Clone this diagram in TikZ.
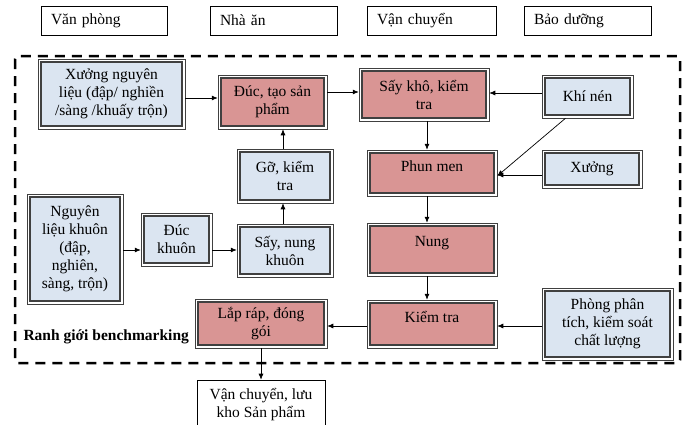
\documentclass[tikz,border=0pt]{standalone}
\usepackage{fontspec}
\setmainfont{Liberation Serif}
\usetikzlibrary{arrows.meta}
\definecolor{pinkc}{HTML}{D99594}
\definecolor{bluec}{HTML}{DBE5F1}
\begin{document}
\begin{tikzpicture}[x=1pt,y=-1pt,
  font=\fontsize{15.5}{18}\selectfont,
  dbox/.style={draw=black!75, line width=0.5pt, fill=white, inner sep=0pt, align=center,
    path picture={\draw[line width=1.3pt, fill=#1]
      ([shift={(3pt,3pt)}]path picture bounding box.south west) rectangle
      ([shift={(-3pt,-3pt)}]path picture bounding box.north east);}},
  pinkbox/.style={dbox=pinkc},
  bluebox/.style={dbox=bluec},
  topbox/.style={draw, line width=0.6pt, inner xsep=10pt, text width=#1, align=left, minimum height=29pt},
  plainbox/.style={draw, line width=0.6pt, fill=white, inner sep=0pt, align=center},
  arr/.style={-{Latex[length=6pt,width=5pt]}, line width=0.7pt},
  frame/.style={line width=2.5pt, dash pattern=on 10pt off 7pt},
]
\useasboundingbox (0,0) rectangle (688,424);
\clip (0,0) rectangle (688,424);

% top boxes
\node[topbox=106pt] (vp) at (104,20.5) {Văn phòng};
\node[topbox=107pt] (na) at (273.5,20.5) {Nhà ăn};
\node[topbox=109pt] (vch) at (431.5,20.5) {Vận chuyển};
\node[topbox=107pt] (bd) at (587.5,20.5) {Bảo dưỡng};

% benchmark boundary
\draw[frame, rounded corners=3pt] (15,56) rectangle (680,363);
\node[anchor=west, font=\fontsize{15.5}{18}\selectfont\bfseries] (rg) at (20,337) {Ranh giới benchmarking};

% process boxes
\node[bluebox, minimum width=147pt, minimum height=70pt] (xnl) at (111.5,94) {Xưởng nguyên\\liệu (đập/ nghiền\\/sàng /khuấy trộn)};
\node[pinkbox, minimum width=109pt, minimum height=54pt] (duc) at (272.5,102) {Đúc, tạo sản\\phẩm};
\node[pinkbox, minimum width=130pt, minimum height=53pt] (say) at (424,94.5) {Sấy khô, kiểm\\tra};
\node[bluebox, minimum width=91pt, minimum height=43pt] (khi) at (587.5,96.5) {Khí nén};
\node[pinkbox, minimum width=130pt, minimum height=46pt, text depth=13pt] (phun) at (432,173) {Phun men};
\node[bluebox, minimum width=100pt, minimum height=38pt] (xuong) at (592,169) {Xưởng};
\node[bluebox, minimum width=96pt, minimum height=54pt] (go) at (285,176) {Gỡ, kiểm\\tra};
\node[bluebox, minimum width=96pt, minimum height=110pt] (nlk) at (75,249) {Nguyên\\liệu khuôn\\(đập,\\nghiên,\\sàng, trộn)};
\node[bluebox, minimum width=71pt, minimum height=53pt] (dk) at (176.5,239.5) {Đúc\\khuôn};
\node[bluebox, minimum width=96pt, minimum height=53pt] (snk) at (285,250.5) {Sấy, nung\\khuôn};
\node[pinkbox, minimum width=130pt, minimum height=53pt, text depth=17pt] (nung) at (432,249.5) {Nung};
\node[pinkbox, minimum width=130pt, minimum height=48pt, text depth=15pt] (kt) at (432,324) {Kiểm tra};
\node[bluebox, minimum width=131pt, minimum height=72pt] (ppt) at (607.5,324) {Phòng phân\\tích, kiểm soát\\chất lượng};
\node[pinkbox, minimum width=132pt, minimum height=49pt] (lr) at (261,323.5) {Lắp ráp, đóng\\gói};
\node[plainbox, minimum width=128pt, minimum height=50pt] (vc) at (261,405) {Vận chuyển, lưu\\kho Sản phẩm};

% helper coordinates
\coordinate (y98) at (0,98);
\coordinate (y92) at (0,92);
\coordinate (y93) at (0,93);
\coordinate (y175) at (0,175);
\coordinate (y326) at (0,326);
\coordinate (y250) at (0,250);
\coordinate (x427) at (427,0);
\coordinate (x283) at (283,0);

% connectors
\draw[arr] (xnl.east |- y98) -- (duc.west |- y98);
\draw[arr] (duc.east |- y92) -- (say.west |- y92);
\draw[arr] (khi.west |- y93) -- (say.east |- y93);
\draw[arr] ([xshift=-22pt]khi.south) -- ([yshift=-3pt]phun.east);
\draw[arr] (xuong.west |- y175) -- (phun.east |- y175);
\draw[arr] (say.south -| x427) -- (phun.north -| x427);
\draw[arr] (phun.south -| x427) -- (nung.north -| x427);
\draw[arr] (nung.south -| x427) -- (kt.north -| x427);
\draw[arr] (ppt.west |- y326) -- (kt.east |- y326);
\draw[arr] (kt.west |- y326) -- (lr.east |- y326);
\draw[arr] (lr.south) -- (vc.north);
\draw[arr] (nlk.east |- y250) -- (dk.west |- y250);
\draw[arr] (dk.east |- y250) -- (snk.west |- y250);
\draw[arr] (snk.north -| x283) -- (go.south -| x283);
\draw[arr] (go.north -| x283) -- (duc.south -| x283);
\end{tikzpicture}
\end{document}
